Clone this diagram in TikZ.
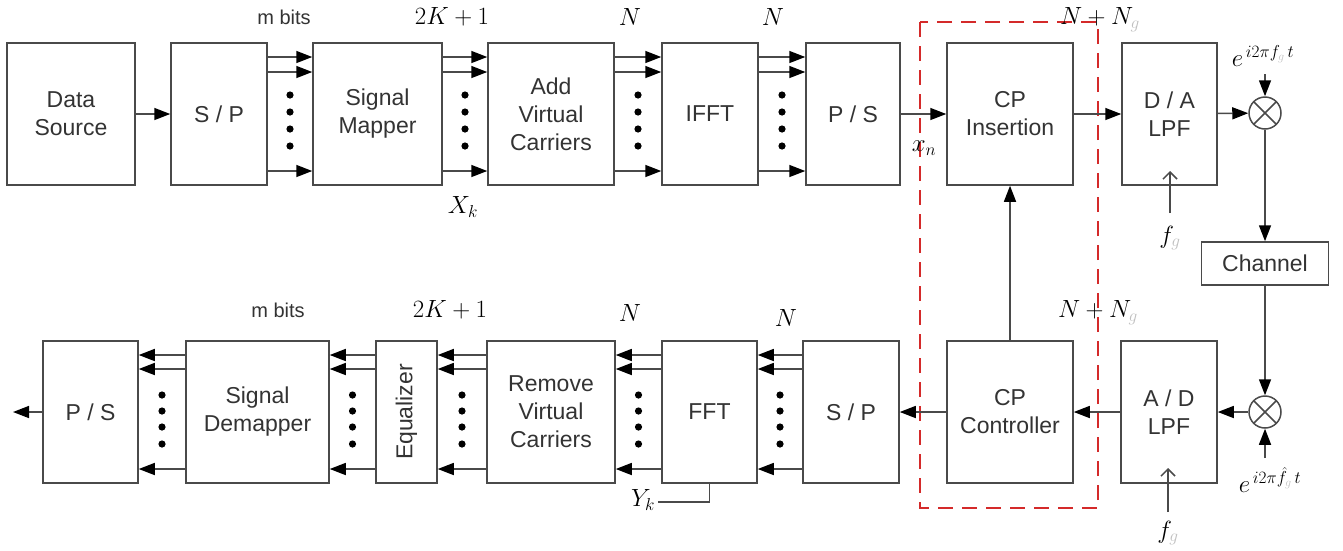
\documentclass[tikz,border=0pt]{standalone}
\usepackage{fontspec}
\setmainfont{Liberation Sans}
\usetikzlibrary{arrows.meta,calc}
\definecolor{lncol}{HTML}{4A4A4A}
\definecolor{txcol}{HTML}{333333}
\definecolor{rdcol}{HTML}{D42A2A}
\newcommand{\gsub}{\textcolor{gray!50}{g}}
\begin{document}
\begin{tikzpicture}[x=1pt,y=-1pt,
 blk/.style={draw=lncol, line width=1.5pt, fill=white, text=txcol, align=center, inner sep=0pt, font=\fontsize{23}{28}\selectfont},
 arr/.style={draw=lncol, line width=1.5pt, -{Triangle[length=16pt,width=12pt,color=black]}},
 conn/.style={draw=lncol, line width=1.5pt},
 openarr/.style={draw=lncol, line width=1.5pt, -{Straight Barb[length=7pt,width=14pt]}},
 lbl/.style={text=txcol, font=\fontsize{20}{24}\selectfont, inner sep=0pt},
 mlbl/.style={text=black, font=\fontsize{24}{28}\selectfont, inner sep=0pt},
 mix/.style={circle, draw=lncol, line width=1.5pt, minimum size=32pt, inner sep=0pt,
   path picture={\draw[lncol, line width=1.5pt] (path picture bounding box.north west) -- (path picture bounding box.south east)
     (path picture bounding box.north east) -- (path picture bounding box.south west);}}
]
\useasboundingbox (0,0) rectangle (1343,550);

% red dashed frame
\draw[rdcol, line width=2.5pt, dash pattern=on 15pt off 9pt] (920,22) rectangle (1098,508);

% top row
\node[blk, minimum width=128pt, minimum height=142pt] (ds)   at (71,114)   {Data\\Source};
\node[blk, minimum width=96pt,  minimum height=142pt] (sp1)  at (219,114)  {S / P};
\node[blk, minimum width=129pt, minimum height=142pt] (map)  at (377.5,114) {Signal\\Mapper};
\node[blk, minimum width=126pt, minimum height=142pt] (avc)  at (551,114)  {Add\\Virtual\\Carriers};
\node[blk, minimum width=96pt,  minimum height=142pt] (ifft) at (710,114)  {IFFT};
\node[blk, minimum width=94pt,  minimum height=142pt] (ps1)  at (853,114)  {P / S};
\node[blk, minimum width=126pt, minimum height=142pt] (cpi)  at (1010,114) {CP\\Insertion};
\node[blk, minimum width=95pt,  minimum height=142pt] (da)   at (1169.5,114) {D / A\\LPF};
\node[mix] (m1) at (1265,113) {};
\node[blk, minimum width=127pt, minimum height=43pt] (ch) at (1265,263.5) {Channel};

% bottom row
\node[blk, minimum width=95pt,  minimum height=142pt] (ps2)  at (90.5,412)  {P / S};
\node[blk, minimum width=143pt, minimum height=142pt] (dem)  at (257.5,412) {Signal\\Demapper};
\node[blk, minimum width=61pt,  minimum height=142pt] (eq)   at (406.5,412) {\rotatebox{90}{Equalizer}};
\node[blk, minimum width=128pt, minimum height=142pt] (rvc)  at (551,412)   {Remove\\Virtual\\Carriers};
\node[blk, minimum width=95pt,  minimum height=142pt] (fft)  at (709.5,412) {FFT};
\node[blk, minimum width=96pt,  minimum height=142pt] (sp2)  at (851,412)   {S / P};
\node[blk, minimum width=126pt, minimum height=142pt] (cpc)  at (1010,412)  {CP\\Controller};
\node[blk, minimum width=96pt,  minimum height=142pt] (ad)   at (1169,412)  {A / D\\LPF};
\node[mix] (m2) at (1265,412) {};

% top multi-line connections
\foreach \a/\b in {sp1/map, map/avc, avc/ifft, ifft/ps1}{
  \foreach \s in {57,42,-57}{
    \draw[arr] ([yshift=\s pt]\a.east) -- ([yshift=\s pt]\b.west);
  }
  \foreach \d in {-19,-2,15,32}{
    \fill ($(\a.east)!0.5!(\b.west)+(0,\d)$) circle (3.6);
  }
}
% bottom multi-line connections
\foreach \a/\b in {sp2/fft, fft/rvc, rvc/eq, eq/dem, dem/ps2}{
  \foreach \s in {57,43,-57}{
    \draw[arr] ([yshift=\s pt]\a.west) -- ([yshift=\s pt]\b.east);
  }
  \foreach \d in {-17,-1,15,32}{
    \fill ($(\a.west)!0.5!(\b.east)+(0,\d)$) circle (3.6);
  }
}

% single connections
\draw[arr] (ds) -- (sp1);
\draw[arr] (ps1) -- (cpi);
\draw[arr] (cpi) -- (da);
\draw[arr] (da) -- (m1);
\draw[arr] (m1) -- (ch);
\draw[arr] (ch) -- (m2);
\draw[arr] (m2) -- (ad);
\draw[arr] (ad) -- (cpc);
\draw[arr] (cpc) -- (sp2);
\draw[arr] (cpc) -- (cpi);
\coordinate (out) at (13,412);
\draw[arr] (ps2) -- (out);

% oscillator inputs
\coordinate (e1) at (1265,74);
\draw[arr] (e1) -- (m1);
\coordinate (e2) at (1265,458);
\draw[arr] (e2) -- (m2);
\coordinate (f1) at (1170,213);
\draw[openarr] (f1) -- (1170,171);
\coordinate (f2) at (1168,512);
\draw[openarr] (f2) -- (1168,468);

% Y_k tap
\coordinate (yk) at (658,502);
\draw[conn] (fft.south) |- (yk);

% labels
\node[lbl]  (lmb1)  at (284,17)  {m bits};
\node[mlbl] (l2k1)  at (452,17)  {$2K+1$};
\node[mlbl] (ln1)   at (630,17)  {$N$};
\node[mlbl] (ln2)   at (773,17)  {$N$};
\node[mlbl] (lnng1) at (1100,20) {$N+N_{\gsub}$};
\node[mlbl] (lexp1) at (1263,56) {$e^{\,i2\pi f_{\gsub}\,t}$};
\node[mlbl] (lxn)   at (924,148) {$x_n$};
\node[mlbl] (lxk)   at (463,207) {$X_k$};
\node[mlbl] (lfg1)  at (1170,238) {$f_{\gsub}$};

\node[lbl]  (lmb2)  at (278,310) {m bits};
\node[mlbl] (l2k2)  at (450,310) {$2K+1$};
\node[mlbl] (ln3)   at (630,313) {$N$};
\node[mlbl] (ln4)   at (786,318) {$N$};
\node[mlbl] (lnng2) at (1098,313) {$N+N_{\gsub}$};
\node[mlbl] (lexp2) at (1270,480) {$e^{\,i2\pi\hat{f}_{\gsub}\,t}$};
\node[mlbl] (lfg2)  at (1168,533) {$f_{\gsub}$};
\node[mlbl] (lyk)   at (643,500) {$Y_k$};
\end{tikzpicture}
\end{document}
